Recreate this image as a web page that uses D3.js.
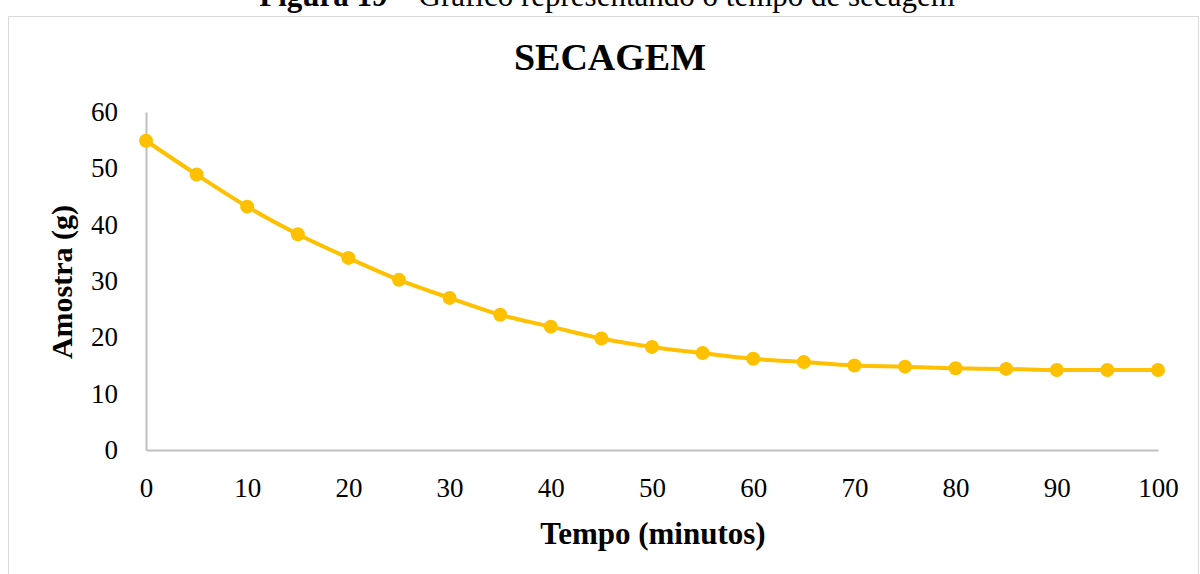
<!DOCTYPE html>
<html>
<head>
<meta charset="utf-8">
<script src="https://cdn.jsdelivr.net/npm/d3@7"></script>
<style>
  body { margin: 0; background: #fff; }
  svg { display: block; }
  text { font-family: "Liberation Serif", "Times New Roman", serif; fill: #000; }
</style>
</head>
<body>
<div id="chart"></div>
<script>
// tempo (minutos) e massa da amostra (g)
const tempo = [0, 5, 10, 15, 20, 25, 30, 35, 40, 45, 50, 55, 60, 65, 70, 75, 80, 85, 90, 95, 100];
const amostra = [54.9, 48.9, 43.2, 38.3, 34.1, 30.2, 27.0, 24.0, 21.9, 19.8, 18.3, 17.2, 16.2, 15.6, 15.0, 14.8, 14.5, 14.4, 14.2, 14.2, 14.2];
const xTicks = [0, 10, 20, 30, 40, 50, 60, 70, 80, 90, 100];
const yTicks = [0, 10, 20, 30, 40, 50, 60];

const width = 1200, height = 574;
const margin = { top: 112, right: 42, bottom: 124, left: 146 };

const svg = d3.select("#chart").append("svg")
    .attr("width", width)
    .attr("height", height);

// caption above the chart frame (cut off at the top, as in the source)
const cap = svg.append("text")
    .attr("x", 607)
    .attr("y", 6)
    .attr("text-anchor", "middle")
    .style("font-size", "31px");
cap.append("tspan").style("font-weight", "bold").text("Figura 19");
cap.append("tspan").text(" – Gráfico representando o tempo de secagem");

// chart frame
svg.append("rect")
    .attr("x", 8.5)
    .attr("y", 16.5)
    .attr("width", 1190)
    .attr("height", 570)
    .attr("fill", "none")
    .attr("stroke", "#d9d9d9")
    .attr("stroke-width", 1);

var x = d3.scaleLinear()
    .domain([0, 100])
    .range([margin.left, width - margin.right]);
var y = d3.scaleLinear()
    .domain([0, 60])
    .range([height - margin.bottom, margin.top]);

// title
svg.append("text")
    .attr("x", 610)
    .attr("y", 70)
    .attr("text-anchor", "middle")
    .style("font-size", "38px")
    .style("font-weight", "bold")
    .text("SECAGEM");

// axes
var xAxis = svg.append("g")
    .attr("transform", "translate(0," + y(0) + ")")
    .call(d3.axisBottom(x).tickValues(xTicks).tickSize(0).tickPadding(28));
var yAxis = svg.append("g")
    .attr("transform", "translate(" + x(0) + ",0)")
    .call(d3.axisLeft(y).tickValues(yTicks).tickSize(0).tickPadding(28));

[xAxis, yAxis].forEach(function (g) {
    g.select(".domain").attr("stroke", "#bfbfbf").attr("stroke-width", 2);
    g.selectAll("text")
        .style("font-family", "'Liberation Serif', 'Times New Roman', serif")
        .style("font-size", "27px")
        .attr("fill", "#000");
});

// axis titles
svg.append("text")
    .attr("x", 653)
    .attr("y", 544)
    .attr("text-anchor", "middle")
    .style("font-size", "31px")
    .style("font-weight", "bold")
    .text("Tempo (minutos)");

svg.append("text")
    .attr("transform", "translate(72," + 282 + ") rotate(-90)")
    .attr("text-anchor", "middle")
    .style("font-size", "30px")
    .style("font-weight", "bold")
    .text("Amostra (g)");

// series
const points = tempo.map((t, i) => ({ t: t, v: amostra[i] }));

var line = d3.line()
    .x(d => x(d.t))
    .y(d => y(d.v))
    .curve(d3.curveCatmullRom);

svg.append("path")
    .datum(points)
    .attr("d", line)
    .attr("fill", "none")
    .attr("stroke", "#FFC000")
    .attr("stroke-width", 4)
    .attr("stroke-linecap", "round");

svg.selectAll(".dot")
    .data(points)
    .enter()
    .append("circle")
    .attr("class", "dot")
    .attr("cx", d => x(d.t))
    .attr("cy", d => y(d.v))
    .attr("r", 7)
    .attr("fill", "#FFC000");
</script>
</body>
</html>
